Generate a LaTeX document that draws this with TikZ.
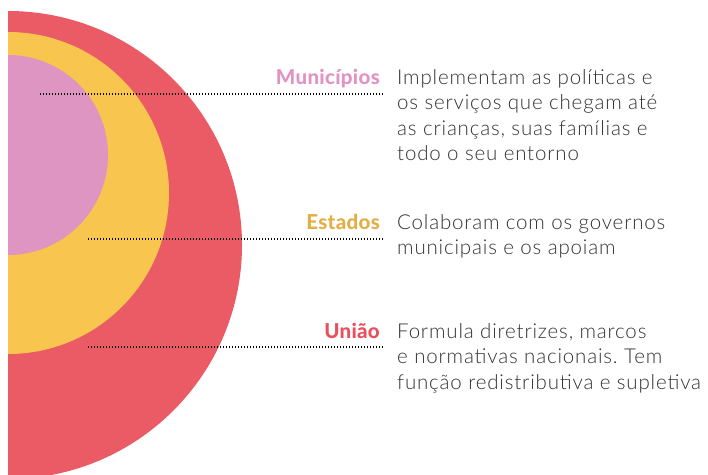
\documentclass[tikz,border=0pt]{standalone}
\usepackage{fontspec}
\setmainfont{Lato}[UprightFont={* Light},BoldFont={* Bold}]
\newfontfamily\bodyf{Lato}[UprightFont={* Light},LetterSpace=4]
\newfontfamily\lblf{Lato}[UprightFont={* Heavy},LetterSpace=1.5]
\definecolor{cred}{HTML}{EB5B65}
\definecolor{cyel}{HTML}{F8C54F}
\definecolor{cpink}{HTML}{DE95C2}
\definecolor{lpink}{HTML}{E293C5}
\definecolor{lyel}{HTML}{E2AE45}
\definecolor{lred}{HTML}{E9505D}
\definecolor{txt}{HTML}{333333}
\frenchspacing
\begin{document}
\begin{tikzpicture}[x=1pt,y=-1pt,
  body/.style={anchor=base west,inner sep=0pt,font=\bodyf\fontsize{20.5}{24}\selectfont\frenchspacing,text=txt},
  lbl/.style={anchor=base east,inner sep=0pt,font=\lblf\fontsize{20.5}{24}\selectfont},
  leader/.style={line width=1.4pt,dash pattern=on 1.4pt off 1.6pt}]
\useasboundingbox (0,0) rectangle (708,474);
\begin{scope}
\clip (8,0) rectangle (708,474);
\fill[cred] (8,245) circle[radius=234pt];
\fill[cyel] (8,193) circle[radius=161pt];
\fill[cpink] (8,155) circle[radius=100pt];
\end{scope}
% labels
\node[lbl,text=lpink] (mun) at (380,84) {Municípios};
\node[lbl,text=lyel] (est) at (380,229) {Estados};
\node[lbl,text=lred] (uni) at (380,338.5) {União};
% leaders
\coordinate (m0) at (40,94);  \coordinate (m1) at (383,94);
\coordinate (e0) at (88,239); \coordinate (e1) at (383,239);
\coordinate (u0) at (88,347); \coordinate (u1) at (383,347);
\draw[leader] (m0) -- (m1);
\draw[leader] (e0) -- (e1);
\draw[leader] (u0) -- (u1);
% body text
\node[body] (m1t) at (397,84) {Implementam as políticas e};
\node[body] (m2t) at (397,109.5) {os serviços que chegam até};
\node[body] (m3t) at (397,135) {as crianças, suas famílias e};
\node[body] (m4t) at (397,160.5) {todo o seu entorno};
\node[body] (e1t) at (397,229) {Colaboram com os governos};
\node[body] (e2t) at (397,254.5) {municipais e os apoiam};
\node[body] (u1t) at (397,338.5) {Formula diretrizes, marcos};
\node[body] (u2t) at (397,363.7) {e normativas nacionais. Tem};
\node[body] (u3t) at (397,389) {função redistributiva e supletiva};
\end{tikzpicture}
\end{document}
